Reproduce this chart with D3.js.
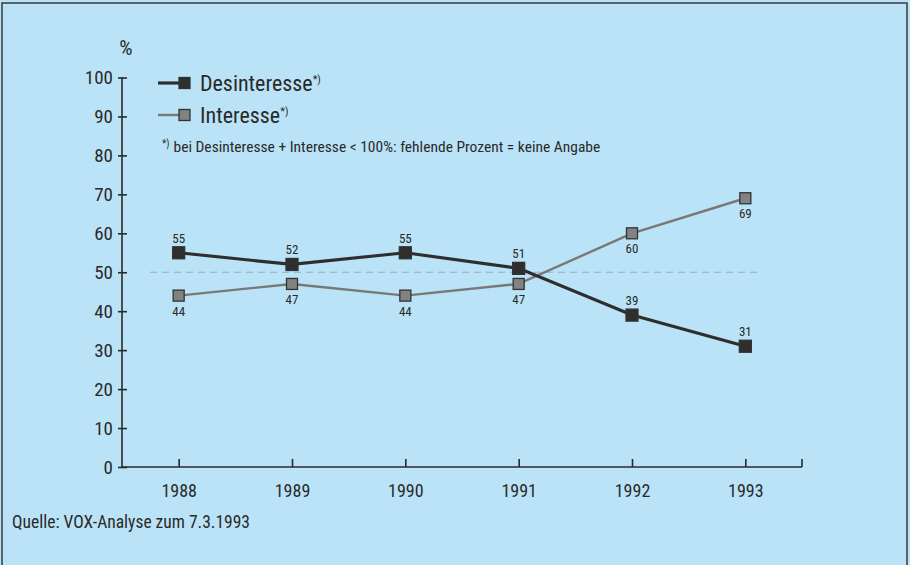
<!DOCTYPE html>
<html>
<head>
<meta charset="utf-8">
<script src="https://cdn.jsdelivr.net/npm/d3@7"></script>
<style>
  body { margin: 0; background: #bde3f6; }
  svg text { font-family: "Liberation Sans Narrow", "Arial Narrow", "Roboto Condensed", sans-serif; fill: #2a2a2a; }
  .axis path, .axis line { stroke: #2a2a2a; stroke-width: 1.6; }
</style>
</head>
<body>
<div id="chart"></div>
<script>
"use strict"

// data
const years = [1988, 1989, 1990, 1991, 1992, 1993];
const desinteresse = [55, 52, 55, 51, 39, 31];
const interesse = [44, 47, 44, 47, 60, 69];
const yTicks = [0, 10, 20, 30, 40, 50, 60, 70, 80, 90, 100];
const legendLabels = ["Desinteresse", "Interesse"];
const footnote = "bei Desinteresse + Interesse < 100%: fehlende Prozent = keine Angabe";
const source = "Quelle: VOX-Analyse zum 7.3.1993";

const width = 910;
const height = 565;

const svg = d3.select("#chart").append("svg")
    .attr("width", width)
    .attr("height", height);

// background + frame
svg.append("rect")
    .attr("width", width).attr("height", height)
    .attr("fill", "#bae3f7");
svg.append("path")
    .attr("d", "M2,570 V3 H907 V570")
    .attr("fill", "none")
    .attr("stroke", "#3a3a3a")
    .attr("stroke-width", 1.5);

//----------------------------SCALES----------------------------//
const x = d3.scalePoint().domain(years).range([122, 802]).padding(0.5);
const y = d3.scaleLinear().domain([0, 100]).range([467, 77.5]);

//-----------------------------AXES-----------------------------//
const yaxis = d3.axisLeft(y)
    .tickValues(yTicks)
    .tickSizeOuter(0)
    .tickSizeInner(4)
    .tickPadding(4);

const yaxisEl = svg.append("g")
    .attr("class", "axis yaxis")
    .attr("transform", "translate(122,0)")
    .call(yaxis);
yaxisEl.select(".domain").attr("d", `M0,${y(0)}V${y(100)}`);
yaxisEl.selectAll(".tick line").attr("x1", 5).attr("x2", -4);
yaxisEl.selectAll(".tick text")
    .attr("x", -9)
    .style("font-size", "19px");

svg.append("text")
    .attr("x", 126).attr("y", 55)
    .attr("text-anchor", "middle")
    .style("font-size", "21px")
    .text("%");

const xaxis = d3.axisBottom(x)
    .tickSizeOuter(0)
    .tickSizeInner(-8)
    .tickPadding(18);

const xaxisEl = svg.append("g")
    .attr("class", "axis xaxis")
    .attr("transform", `translate(0,${y(0)})`)
    .call(xaxis);
xaxisEl.select(".domain").attr("d", "M122,0H802");
xaxisEl.append("line")
    .attr("x1", 802).attr("x2", 802)
    .attr("y1", 0).attr("y2", -8);
xaxisEl.selectAll(".tick text")
    .attr("y", 30)
    .attr("dy", 0)
    .style("font-size", "18px");

// dashed 50% reference
svg.append("line")
    .attr("x1", 150).attr("x2", 760)
    .attr("y1", y(50)).attr("y2", y(50))
    .attr("stroke", "#8fa3ad")
    .attr("stroke-width", 1)
    .attr("stroke-dasharray", "7,5")
    .attr("opacity", 0.8);

//-----------------------------LINES----------------------------//
const series = [
    { name: "Interesse", values: interesse, line: "#787878", width: 2.4, fill: "#828282", size: 11, dy: 20 },
    { name: "Desinteresse", values: desinteresse, line: "#2e2e2e", width: 3.2, fill: "#2e2e2e", size: 12, dy: -10 }
];

const lineGen = d3.line()
    .x((d, i) => x(years[i]))
    .y(d => y(d));

series.forEach(s => {
    const g = svg.append("g");
    g.append("path")
        .attr("d", lineGen(s.values))
        .attr("fill", "none")
        .attr("stroke", s.line)
        .attr("stroke-width", s.width);
    g.selectAll("rect")
        .data(s.values)
        .join("rect")
        .attr("x", (d, i) => x(years[i]) - s.size / 2)
        .attr("y", d => y(d) - s.size / 2)
        .attr("width", s.size)
        .attr("height", s.size)
        .attr("fill", s.fill)
        .attr("stroke", "#333")
        .attr("stroke-width", 1.3);
    g.selectAll("text")
        .data(s.values)
        .join("text")
        .attr("x", (d, i) => x(years[i]))
        .attr("y", d => y(d) + s.dy)
        .attr("text-anchor", "middle")
        .style("font-size", "13px")
        .text(d => d);
});

//----------------------------LEGEND----------------------------//
const legend = [
    { label: legendLabels[0], y: 83, line: "#2e2e2e", width: 3.2, fill: "#2e2e2e" },
    { label: legendLabels[1], y: 115, line: "#787878", width: 2.4, fill: "#828282" }
];
legend.forEach(l => {
    svg.append("line")
        .attr("x1", 158).attr("x2", 180)
        .attr("y1", l.y).attr("y2", l.y)
        .attr("stroke", l.line)
        .attr("stroke-width", l.width);
    svg.append("rect")
        .attr("x", 179).attr("y", l.y - 5.5)
        .attr("width", 11).attr("height", 11)
        .attr("fill", l.fill)
        .attr("stroke", "#333")
        .attr("stroke-width", 1.3);
    const t = svg.append("text")
        .attr("x", 200).attr("y", l.y + 8)
        .style("font-size", "22px")
        .text(l.label);
    t.append("tspan")
        .attr("dy", -8)
        .style("font-size", "11px")
        .text("*)");
});

const fn = svg.append("text")
    .attr("x", 162).attr("y", 152)
    .style("font-size", "15.5px");
fn.append("tspan")
    .attr("dy", -5)
    .style("font-size", "10px")
    .text("*)");
fn.append("tspan")
    .attr("dy", 5)
    .attr("dx", 4)
    .text(footnote);

svg.append("text")
    .attr("x", 12).attr("y", 528)
    .style("font-size", "17.5px")
    .text(source);
</script>
</body>
</html>
